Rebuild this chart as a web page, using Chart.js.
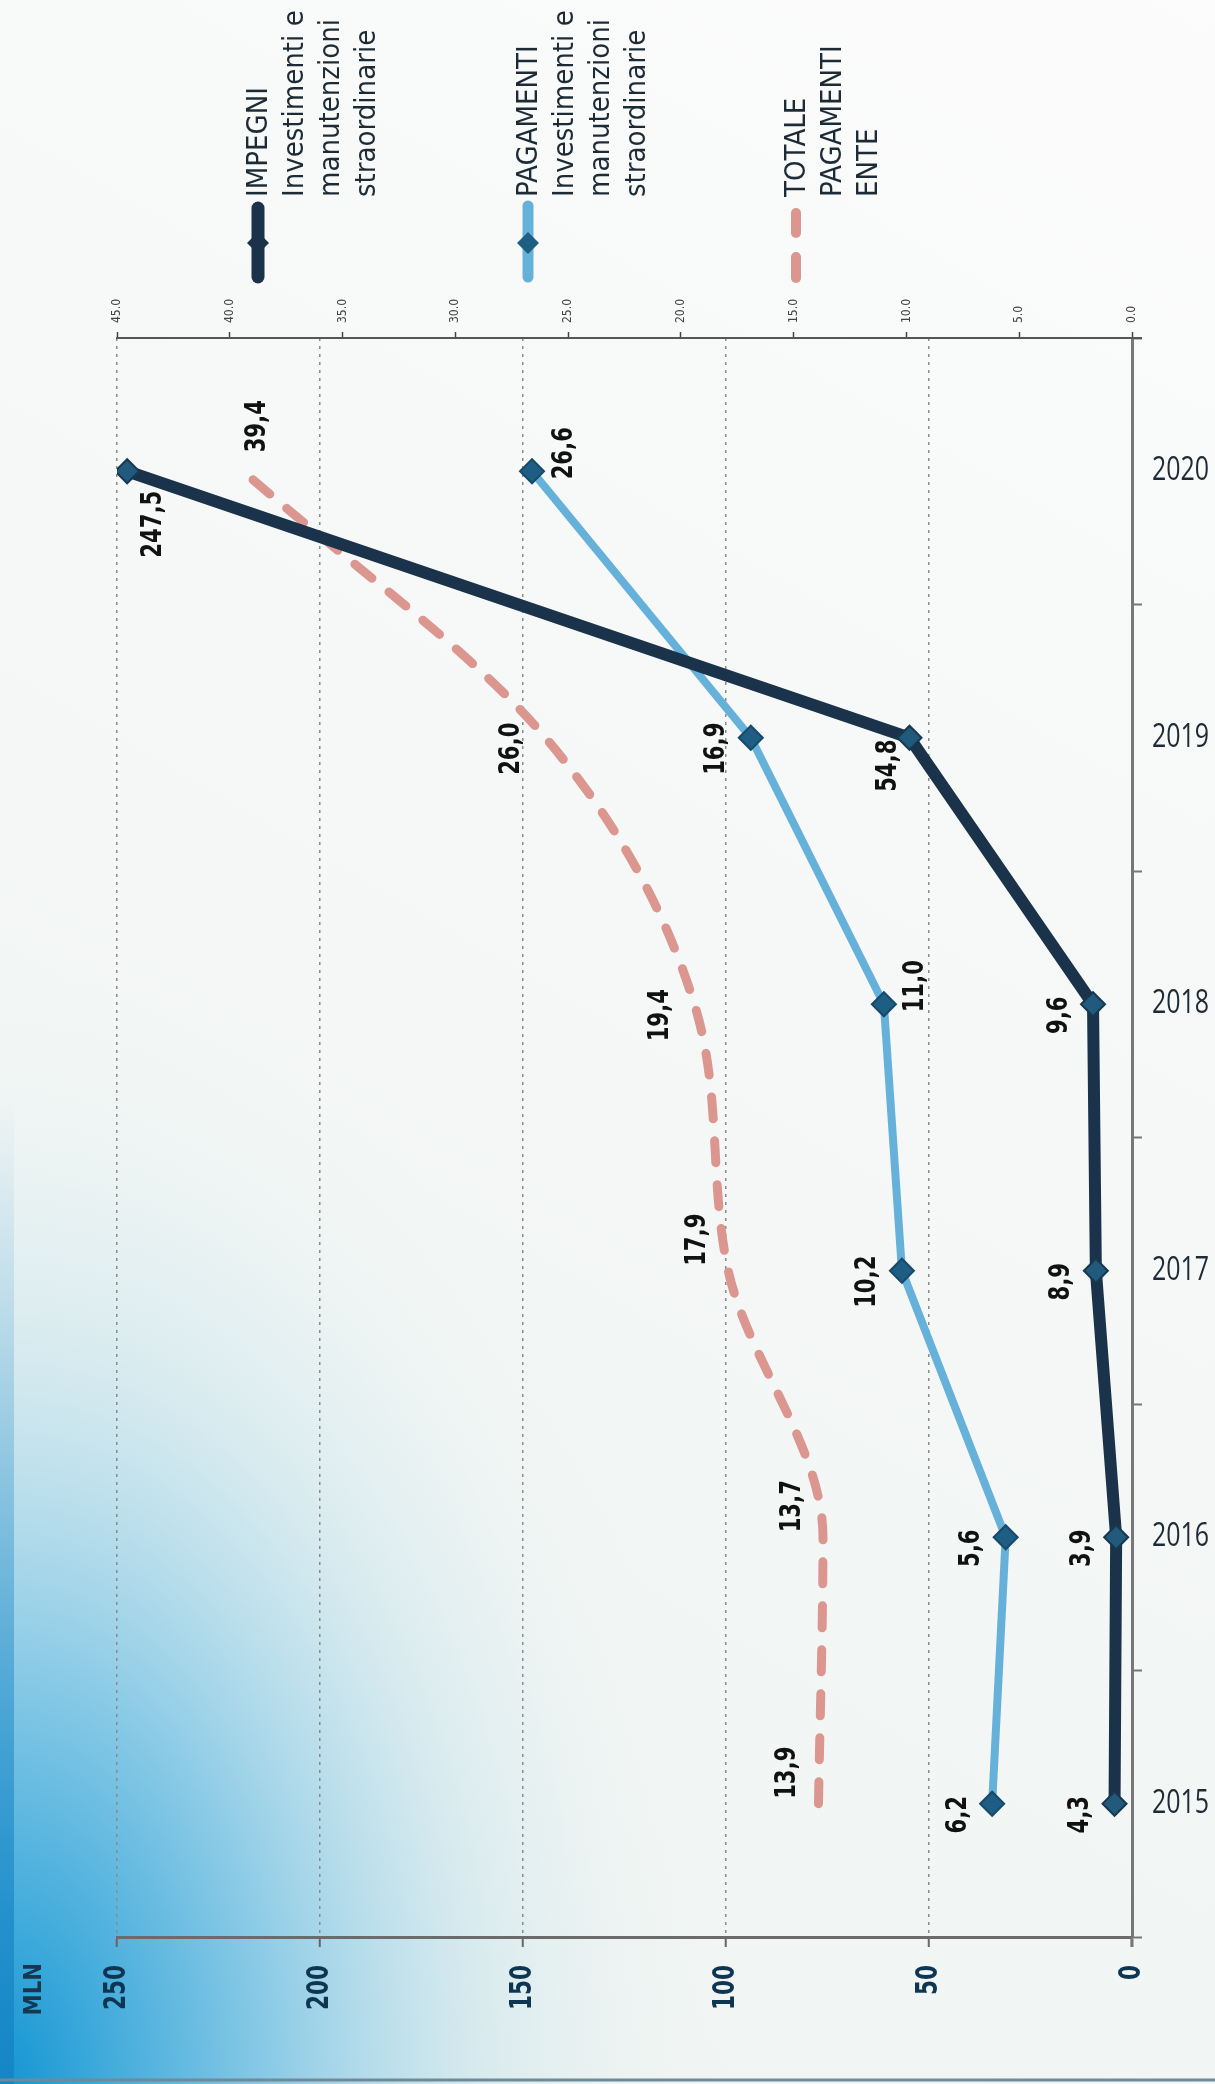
<!DOCTYPE html>
<html>
<head>
<meta charset="utf-8">
<script src="https://cdn.jsdelivr.net/npm/chart.js@4.4.1/dist/chart.umd.min.js"></script>
<style>
html,body{margin:0;padding:0;background:#f4f6f3;}
canvas{display:block;}
</style>
</head>
<body>
<canvas id="c" width="1215" height="2084"></canvas>
<script>
// ---------- DATA ----------
const years = ['2015', '2016', '2017', '2018', '2019', '2020'];
const impegni = [4.3, 3.9, 8.9, 9.6, 54.8, 247.5];          // primary axis (MLN)
const pagamenti = [6.2, 5.6, 10.2, 11.0, 16.9, 26.6];       // secondary axis
const totalePagamenti = [13.9, 13.7, 17.9, 19.4, 26.0, 39.4]; // secondary axis

const legendImpegni = ['IMPEGNI', 'Investimenti e', 'manutenzioni', 'straordinarie'];
const legendPagamenti = ['PAGAMENTI', 'Investimenti e', 'manutenzioni', 'straordinarie'];
const legendTotale = ['TOTALE', 'PAGAMENTI', 'ENTE'];
const axisUnit = 'MLN';

// label placement (style)
const alignImpegni = ['left', 'left', 'left', 'left', 'downleft', 'belowright'];
const alignPagamenti = ['left', 'left', 'left', 'right', 'left', 'right'];
const alignTotale = ['upleft', 'upleft', 'upleft', 'left', 'left', 'above'];
const OFFS = {
  left: [-34, 11], right: [32, -18], above: [14, -45],
  upleft: [-31, -31], belowright: [26, 53], downleft: [-21, 28]
};

const NAVY = '#1a334a';
const LIGHT = '#66b1da';
const PINK = '#dc9690';
const MARK = '#225a7e';
const ROT = -Math.PI / 2;

function txt(ctx, s, x, y, o) {
  ctx.save();
  ctx.translate(x, y);
  if (o.rot) ctx.rotate(o.rot);
  ctx.scale(o.sx || 1, 1);
  ctx.font = o.font;
  ctx.fillStyle = o.color;
  ctx.textAlign = o.align || 'center';
  ctx.textBaseline = o.baseline || 'middle';
  ctx.fillText(s, 0, 0);
  ctx.restore();
}
function diamond(ctx, x, y, r, fill, stroke) {
  ctx.save();
  ctx.beginPath();
  ctx.moveTo(x - r, y); ctx.lineTo(x, y - r); ctx.lineTo(x + r, y); ctx.lineTo(x, y + r);
  ctx.closePath();
  ctx.fillStyle = fill; ctx.fill();
  if (stroke) { ctx.strokeStyle = stroke; ctx.lineWidth = 1.5; ctx.stroke(); }
  ctx.restore();
}
const fmt = v => v.toFixed(1).replace('.', ',');

const bgPlugin = {
  id: 'bg',
  beforeDraw(chart) {
    const ctx = chart.ctx, W = chart.width, H = chart.height;
    ctx.save();
    const lg = ctx.createLinearGradient(W, 0, 0, H);
    lg.addColorStop(0, '#fbfcfb');
    lg.addColorStop(1, '#eef3f1');
    ctx.fillStyle = lg;
    ctx.fillRect(0, 0, W, H);
    ctx.translate(0, H);
    ctx.scale(1, 1.55);
    const rg = ctx.createRadialGradient(0, 0, 0, 0, 0, 720);
    rg.addColorStop(0, '#1494d2');
    rg.addColorStop(0.12, '#38a7da');
    rg.addColorStop(0.38, '#8ccbe6');
    rg.addColorStop(0.68, 'rgba(200,228,236,0.55)');
    rg.addColorStop(1, 'rgba(240,245,243,0)');
    ctx.fillStyle = rg;
    ctx.fillRect(0, -H / 1.55, W, H / 1.55);
    ctx.restore();
    ctx.save();
    // left scan strip
    const ls = ctx.createLinearGradient(0, 1100, 0, H);
    ls.addColorStop(0, 'rgba(30,140,200,0)');
    ls.addColorStop(1, 'rgba(20,130,195,0.8)');
    ctx.fillStyle = ls;
    ctx.fillRect(0, 1100, 14, H - 1100);
    ctx.strokeStyle = '#6f8a98';
    ctx.lineWidth = 3;
    ctx.beginPath(); ctx.moveTo(0, H - 4); ctx.lineTo(W, H - 4); ctx.stroke();
    ctx.restore();
  }
};

const textPlugin = {
  id: 'texts',
  afterDatasetsDraw(chart) {
    const ctx = chart.ctx;
    const aligns = [alignImpegni, alignPagamenti, alignTotale];
    chart.data.datasets.forEach((ds, di) => {
      const meta = chart.getDatasetMeta(di);
      meta.data.forEach((pt, i) => {
        const o = OFFS[aligns[di][i]];
        txt(ctx, fmt(ds.data[i]), pt.x + o[0], pt.y + o[1],
          { font: 'bold 29px "DejaVu Sans"', color: '#111', rot: ROT, sx: 0.73 });
      });
    });
  },
  afterDraw(chart) {
    const ctx = chart.ctx;
    const a = chart.chartArea;
    const sx = chart.scales.x, sx2 = chart.scales.x2, sy = chart.scales.y;
    // axis extensions
    ctx.save();
    ctx.strokeStyle = '#777'; ctx.lineWidth = 3;
    ctx.beginPath(); ctx.moveTo(a.right, a.bottom); ctx.lineTo(a.right, a.bottom + 10); ctx.stroke();
    ctx.strokeStyle = '#555'; ctx.lineWidth = 2;
    ctx.beginPath(); ctx.moveTo(a.right, a.top); ctx.lineTo(a.right + 10, a.top); ctx.stroke();
    ctx.restore();
    // category labels
    sy.ticks.forEach((t, i) => {
      txt(ctx, years[t.value], a.right + 20, sy.getPixelForTick(i),
        { font: '32px "Open Sans"', color: '#1e2a36', sx: 0.78, align: 'left' });
    });
    // primary axis labels
    sx.ticks.forEach(t => {
      txt(ctx, String(t.value), sx.getPixelForValue(t.value), a.bottom + 28,
        { font: 'bold 30px "DejaVu Sans"', color: '#0e3552', rot: ROT, sx: 0.72, align: 'right' });
    });
    // secondary axis labels
    sx2.ticks.forEach(t => {
      txt(ctx, t.value.toFixed(1), sx2.getPixelForValue(t.value), a.top - 15,
        { font: '12px "DejaVu Sans"', color: '#444', rot: ROT, sx: 0.9, align: 'left' });
    });
    // unit
    txt(ctx, axisUnit, 34, a.bottom + 26,
      { font: 'bold 25px "DejaVu Sans"', color: '#15384f', rot: ROT, sx: 0.85, align: 'right' });

    // legend
    const lf = { font: '29px "DejaVu Sans"', color: '#1d2b36', rot: ROT, sx: 0.9, align: 'left' };
    const items = [[legendImpegni, 258], [legendPagamenti, 528], [legendTotale, 796]];
    items.forEach(([lines, x0]) => {
      lines.forEach((s, k) => txt(ctx, s, x0 + 1 + k * 36, 197, lf));
    });
    ctx.save();
    ctx.lineCap = 'round';
    // item 1
    ctx.strokeStyle = NAVY; ctx.lineWidth = 13;
    ctx.beginPath(); ctx.moveTo(258, 208); ctx.lineTo(258, 277); ctx.stroke();
    diamond(ctx, 258, 243, 11, NAVY);
    // item 2
    ctx.strokeStyle = LIGHT; ctx.lineWidth = 11;
    ctx.beginPath(); ctx.moveTo(528, 206); ctx.lineTo(528, 277); ctx.stroke();
    diamond(ctx, 528, 243, 11, '#1d5f80');
    // item 3
    ctx.strokeStyle = PINK; ctx.lineWidth = 10;
    ctx.beginPath(); ctx.moveTo(796, 213); ctx.lineTo(796, 233); ctx.stroke();
    ctx.beginPath(); ctx.moveTo(796, 257); ctx.lineTo(796, 278); ctx.stroke();
    ctx.restore();
  }
};

new Chart(document.getElementById('c'), {
  type: 'line',
  data: {
    labels: years,
    datasets: [
      {
        label: legendImpegni.join(' '), data: impegni, xAxisID: 'x', yAxisID: 'y',
        borderColor: NAVY, borderWidth: 12, borderJoinStyle: 'round', borderCapStyle: 'round',
        pointStyle: 'rectRot', pointRadius: 12, pointBackgroundColor: MARK,
        pointBorderColor: '#18384f', pointBorderWidth: 2, tension: 0
      },
      {
        label: legendPagamenti.join(' '), data: pagamenti, xAxisID: 'x2', yAxisID: 'y',
        borderColor: LIGHT, borderWidth: 8, borderJoinStyle: 'round', borderCapStyle: 'round',
        pointStyle: 'rectRot', pointRadius: 12, pointBackgroundColor: '#1e5d84',
        pointBorderColor: '#174a6a', pointBorderWidth: 2, tension: 0
      },
      {
        label: legendTotale.join(' '), data: totalePagamenti, xAxisID: 'x2', yAxisID: 'y',
        borderColor: PINK, borderWidth: 9, borderDash: [22, 22], borderCapStyle: 'round',
        pointRadius: 0, cubicInterpolationMode: 'monotone'
      }
    ]
  },
  options: {
    indexAxis: 'y',
    responsive: false,
    maintainAspectRatio: false,
    animation: false,
    devicePixelRatio: 1,
    events: [],
    layout: { padding: { left: 117, right: 0, top: 0, bottom: 0 } },
    plugins: { legend: { display: false }, tooltip: { enabled: false } },
    scales: {
      y: {
        type: 'category', position: 'right', reverse: true, offset: true,
        ticks: { display: false },
        grid: { offset: true, drawOnChartArea: false, drawTicks: true, tickLength: 10, tickColor: '#777', tickWidth: 2 },
        border: { color: '#777', width: 3 },
        afterFit(s) { s.width = 83; }
      },
      x: {
        type: 'linear', position: 'bottom', min: 0, max: 250, reverse: true,
        ticks: { display: false, stepSize: 50 },
        grid: {
          color: c => (c.tick && c.tick.value === 0) ? 'rgba(0,0,0,0)' : '#8a8a8a',
          lineWidth: 1.5, tickLength: 10, tickColor: '#666', tickWidth: 2
        },
        border: { color: '#6b6b6b', width: 3, dash: [3, 5] },
        afterFit(s) { s.height = 147; }
      },
      x2: {
        type: 'linear', position: 'top', min: 0, max: 45, reverse: true,
        ticks: { display: false, stepSize: 5 },
        grid: { drawOnChartArea: false, tickLength: 6, tickColor: '#444', tickWidth: 1.5 },
        border: { color: '#555', width: 2 },
        afterFit(s) { s.height = 338; }
      }
    }
  },
  plugins: [bgPlugin, textPlugin]
});
</script>
</body>
</html>
